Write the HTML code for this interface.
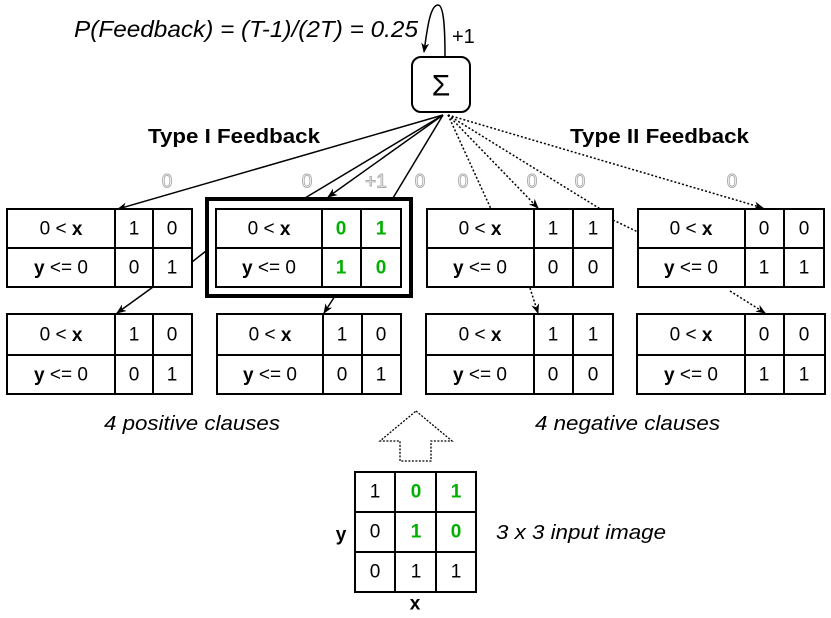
<!DOCTYPE html>
<html><head><meta charset="utf-8"><style>
html,body{margin:0;padding:0;background:#fff;}
svg{display:block;font-family:"Liberation Sans",Arial,sans-serif;}
.t{font-size:19px;text-anchor:middle;dominant-baseline:central;}
.g{fill:#00b000;font-weight:bold;}
.h{font-size:19px;fill:#fff;stroke:#aaa;stroke-width:0.9;text-anchor:middle;dominant-baseline:central;}
</style></head><body>
<svg width="831" height="618" viewBox="0 0 831 618" xmlns="http://www.w3.org/2000/svg">
<defs>
<marker id="a" markerWidth="10" markerHeight="8" refX="9" refY="4" orient="auto" markerUnits="userSpaceOnUse"><path d="M0,0 L10,4 L0,8 L3,4 Z" fill="#000"/></marker>
</defs>
<text x="74" y="37" font-size="23" font-style="italic" textLength="344" lengthAdjust="spacingAndGlyphs">P(Feedback) = (T-1)/(2T) = 0.25</text>
<text x="452" y="43" font-size="20">+1</text>
<path d="M445,57 C445,30 444,5 438,5 C430,5 427,30 424,52" fill="none" stroke="#000" stroke-width="1.5" marker-end="url(#a)"/>
<rect x="412" y="57" width="58" height="55" rx="9" fill="#fff" stroke="#000" stroke-width="2"/>
<text x="441" y="86" class="t" style="font-size:30px">Σ</text>
<text x="148" y="137" font-size="20" font-weight="bold" dominant-baseline="central" textLength="172" lengthAdjust="spacingAndGlyphs">Type I Feedback</text>
<text x="570" y="137" font-size="20" font-weight="bold" dominant-baseline="central" textLength="179" lengthAdjust="spacingAndGlyphs">Type II Feedback</text>
<g stroke="#000" stroke-width="1.5" fill="none">
<line x1="443" y1="115" x2="118" y2="209" marker-end="url(#a)"/>
<line x1="443" y1="115" x2="305" y2="198"/>
<line x1="443" y1="115" x2="328" y2="197" marker-end="url(#a)"/>
<line x1="443" y1="115" x2="393" y2="198"/>
<line x1="192" y1="262" x2="206" y2="251"/>
<line x1="153" y1="287" x2="117" y2="313" marker-end="url(#a)"/>
<line x1="335" y1="296" x2="324" y2="313" marker-end="url(#a)"/>
</g>
<g stroke="#000" stroke-width="1.5" fill="none" stroke-dasharray="2,2">
<line x1="448" y1="115" x2="491" y2="209"/>
<line x1="448" y1="115" x2="538" y2="208" marker-end="url(#a)"/>
<line x1="448" y1="115" x2="602" y2="210"/>
<line x1="613" y1="220" x2="638" y2="232"/>
<line x1="448" y1="115" x2="763" y2="208" marker-end="url(#a)"/>
<line x1="530" y1="288" x2="538" y2="313" marker-end="url(#a)"/>
<line x1="730" y1="291" x2="765" y2="313" marker-end="url(#a)"/>
</g>
<text x="167" y="182" class="h">0</text>
<text x="307" y="182" class="h">0</text>
<text x="376" y="182" class="h">+1</text>
<text x="420" y="182" class="h">0</text>
<text x="463" y="182" class="h">0</text>
<text x="532" y="182" class="h">0</text>
<text x="580" y="182" class="h">0</text>
<text x="732" y="182" class="h">0</text>
<rect x="207" y="199" width="204" height="97" fill="#fff" stroke="#000" stroke-width="4"/>
<g stroke="#000" stroke-width="2" fill="#fff">
<rect x="7" y="209" width="185" height="78"/><line x1="7" y1="248" x2="192" y2="248"/><line x1="115" y1="209" x2="115" y2="287"/><line x1="153" y1="209" x2="153" y2="287"/>
<rect x="216" y="209" width="185" height="78"/><line x1="216" y1="248" x2="401" y2="248"/><line x1="322" y1="209" x2="322" y2="287"/><line x1="361" y1="209" x2="361" y2="287"/>
<rect x="427" y="209" width="186" height="78"/><line x1="427" y1="248" x2="613" y2="248"/><line x1="534" y1="209" x2="534" y2="287"/><line x1="573" y1="209" x2="573" y2="287"/>
<rect x="638" y="209" width="186" height="78"/><line x1="638" y1="248" x2="824" y2="248"/><line x1="745" y1="209" x2="745" y2="287"/><line x1="784" y1="209" x2="784" y2="287"/>
<rect x="7" y="314" width="185" height="80"/><line x1="7" y1="355" x2="192" y2="355"/><line x1="115" y1="314" x2="115" y2="394"/><line x1="153" y1="314" x2="153" y2="394"/>
<rect x="217" y="314" width="184" height="80"/><line x1="217" y1="355" x2="401" y2="355"/><line x1="323" y1="314" x2="323" y2="394"/><line x1="362" y1="314" x2="362" y2="394"/>
<rect x="426" y="314" width="187" height="80"/><line x1="426" y1="355" x2="613" y2="355"/><line x1="534" y1="314" x2="534" y2="394"/><line x1="573" y1="314" x2="573" y2="394"/>
<rect x="637" y="314" width="188" height="80"/><line x1="637" y1="355" x2="825" y2="355"/><line x1="745" y1="314" x2="745" y2="394"/><line x1="784" y1="314" x2="784" y2="394"/>
</g>
<g>
<text class="t" x="61" y="229">0 &lt; <tspan font-weight="bold">x</tspan></text><text class="t" x="61" y="268"><tspan font-weight="bold">y</tspan> &lt;= 0</text>
<text class="t" x="134" y="229">1</text><text class="t" x="172" y="229">0</text><text class="t" x="134" y="268">0</text><text class="t" x="172" y="268">1</text>
<text class="t" x="269" y="229">0 &lt; <tspan font-weight="bold">x</tspan></text><text class="t" x="269" y="268"><tspan font-weight="bold">y</tspan> &lt;= 0</text>
<text class="t g" x="341" y="229">0</text><text class="t g" x="381" y="229">1</text><text class="t g" x="341" y="268">1</text><text class="t g" x="381" y="268">0</text>
<text class="t" x="480" y="229">0 &lt; <tspan font-weight="bold">x</tspan></text><text class="t" x="480" y="268"><tspan font-weight="bold">y</tspan> &lt;= 0</text>
<text class="t" x="553" y="229">1</text><text class="t" x="593" y="229">1</text><text class="t" x="553" y="268">0</text><text class="t" x="593" y="268">0</text>
<text class="t" x="691" y="229">0 &lt; <tspan font-weight="bold">x</tspan></text><text class="t" x="691" y="268"><tspan font-weight="bold">y</tspan> &lt;= 0</text>
<text class="t" x="764" y="229">0</text><text class="t" x="804" y="229">0</text><text class="t" x="764" y="268">1</text><text class="t" x="804" y="268">1</text>
<text class="t" x="61" y="335">0 &lt; <tspan font-weight="bold">x</tspan></text><text class="t" x="61" y="375"><tspan font-weight="bold">y</tspan> &lt;= 0</text>
<text class="t" x="134" y="335">1</text><text class="t" x="172" y="335">0</text><text class="t" x="134" y="375">0</text><text class="t" x="172" y="375">1</text>
<text class="t" x="270" y="335">0 &lt; <tspan font-weight="bold">x</tspan></text><text class="t" x="270" y="375"><tspan font-weight="bold">y</tspan> &lt;= 0</text>
<text class="t" x="342" y="335">1</text><text class="t" x="381" y="335">0</text><text class="t" x="342" y="375">0</text><text class="t" x="381" y="375">1</text>
<text class="t" x="480" y="335">0 &lt; <tspan font-weight="bold">x</tspan></text><text class="t" x="480" y="375"><tspan font-weight="bold">y</tspan> &lt;= 0</text>
<text class="t" x="553" y="335">1</text><text class="t" x="593" y="335">1</text><text class="t" x="553" y="375">0</text><text class="t" x="593" y="375">0</text>
<text class="t" x="691" y="335">0 &lt; <tspan font-weight="bold">x</tspan></text><text class="t" x="691" y="375"><tspan font-weight="bold">y</tspan> &lt;= 0</text>
<text class="t" x="764" y="335">0</text><text class="t" x="804" y="335">0</text><text class="t" x="764" y="375">1</text><text class="t" x="804" y="375">1</text>
</g>
<text x="104" y="424" font-size="20" font-style="italic" dominant-baseline="central" textLength="176" lengthAdjust="spacingAndGlyphs">4 positive clauses</text>
<text x="535" y="424" font-size="20" font-style="italic" dominant-baseline="central" textLength="185" lengthAdjust="spacingAndGlyphs">4 negative clauses</text>
<path d="M416,411 L452,441 L431,441 L431,461 L400,461 L400,441 L380,441 Z" fill="#fff" stroke="#000" stroke-width="1.3" stroke-dasharray="2,1.5"/>
<g stroke="#000" stroke-width="2" fill="none">
<rect x="355" y="472" width="121" height="120"/>
<line x1="395" y1="472" x2="395" y2="592"/><line x1="436" y1="472" x2="436" y2="592"/>
<line x1="355" y1="512" x2="476" y2="512"/><line x1="355" y1="552" x2="476" y2="552"/>
</g>
<text class="t" x="375" y="492">1</text><text class="t g" x="416" y="492">0</text><text class="t g" x="456" y="492">1</text>
<text class="t" x="375" y="532">0</text><text class="t g" x="416" y="532">1</text><text class="t g" x="456" y="532">0</text>
<text class="t" x="375" y="572">0</text><text class="t" x="416" y="572">1</text><text class="t" x="456" y="572">1</text>
<text class="t" x="341" y="535" font-weight="bold">y</text>
<text class="t" x="415" y="604" font-weight="bold">x</text>
<text x="496" y="533" font-size="20" font-style="italic" dominant-baseline="central" textLength="170" lengthAdjust="spacingAndGlyphs">3 x 3 input image</text>
</svg>
</body></html>
